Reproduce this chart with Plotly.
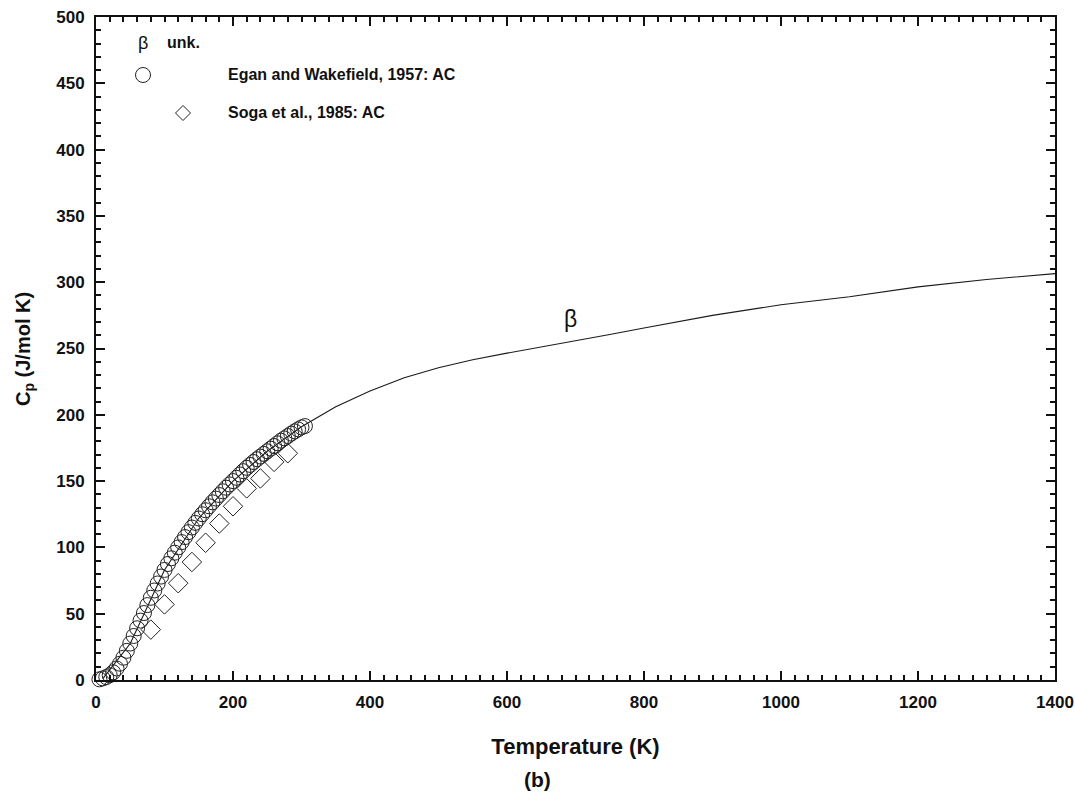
import plotly.graph_objects as go

# ---------------- data ----------------
egan_T = [5, 10, 15, 20, 25, 30, 35, 40, 45, 50, 55, 60, 65, 70, 75, 80, 85, 90, 95, 100,
          105, 110, 115, 120, 125, 130, 135, 140, 145, 150, 155, 160, 165, 170, 175, 180,
          185, 190, 195, 200, 205, 210, 215, 220, 225, 230, 235, 240, 245, 250, 255, 260,
          265, 270, 275, 280, 285, 290, 295, 300, 305]
egan_Cp = [0.5, 1.2, 2.2, 3.6, 5.8, 8.7, 12.3, 16.8, 22.0, 27.5, 33.2, 39.0, 44.8, 50.5, 56.5,
           62.0, 67.5, 72.8, 78.0, 83.0, 87.5, 91.8, 96.0, 100.0, 104.0, 107.8, 111.5, 115.0,
           118.5, 121.8, 125.0, 128.0, 131.0, 134.0, 136.8, 139.5, 142.3, 145.0, 147.5, 150.0,
           152.5, 155.0, 157.5, 160.0, 162.2, 164.4, 166.5, 168.5, 170.5, 172.5, 174.5, 176.5,
           178.5, 180.5, 182.2, 184.0, 185.8, 187.5, 189.0, 190.5, 191.5]

soga_T = [80, 100, 120, 140, 160, 180, 200, 220, 240, 260, 280]
soga_Cp = [38, 57, 73, 89, 103.5, 118, 131, 144.5, 152, 164.5, 171]

beta_T = [10, 50, 100, 150, 200, 250, 300, 350, 400, 450, 500, 550, 600, 650, 700, 750,
          800, 900, 1000, 1100, 1200, 1300, 1400]
beta_Cp = [1, 27.5, 83, 122, 150, 172.5, 191, 206, 218, 228, 235.5, 241.5, 246.5, 251,
           256, 260.5, 265.5, 275, 283, 289, 296.5, 302, 306.5]

x_ticks = [0, 200, 400, 600, 800, 1000, 1200, 1400]
y_ticks = [0, 50, 100, 150, 200, 250, 300, 350, 400, 450, 500]

FONT = "Liberation Sans, Arial, Helvetica, sans-serif"
INK = "#111111"

fig = go.Figure()

fig.add_trace(go.Scatter(
    x=beta_T, y=beta_Cp, mode="lines",
    line=dict(color="#1a1a1a", width=1.1),
    showlegend=False, cliponaxis=False))

fig.add_trace(go.Scatter(
    x=egan_T, y=egan_Cp, mode="markers",
    marker=dict(symbol="circle-open", size=15, color="#222222", line=dict(width=1)),
    showlegend=False, cliponaxis=False))

fig.add_trace(go.Scatter(
    x=soga_T, y=soga_Cp, mode="markers",
    marker=dict(symbol="diamond-open", size=15, color="#222222", line=dict(width=1)),
    showlegend=False, cliponaxis=False))

# pixel helpers for legend decorations (plot area: x 96..1055, y 17..680)
L, R, T, B = 96, 1055, 17, 680
def px(x):
    return (x - L) / (R - L)
def py(y):
    return (B - y) / (B - T)

shapes = []
# legend circle
shapes.append(dict(type="circle", xref="paper", yref="paper",
                   x0=px(135.5), x1=px(150.5), y0=py(82.5), y1=py(67.5),
                   line=dict(color="#222222", width=1)))
# legend diamond
cx, cy, h = 183, 113, 7.5
path = "M {} {} L {} {} L {} {} L {} {} Z".format(
    px(cx), py(cy - h), px(cx + h), py(cy), px(cx), py(cy + h), px(cx - h), py(cy))
shapes.append(dict(type="path", xref="paper", yref="paper", path=path,
                   line=dict(color="#222222", width=1)))

ann_font = dict(family=FONT, size=16, color=INK, weight="bold")
annotations = [
    dict(text="β", x=px(143), y=py(43), xref="paper", yref="paper", showarrow=False,
         xanchor="center", yanchor="middle", font=dict(family=FONT, size=18, color=INK)),
    dict(text="unk.", x=px(165), y=py(43), xref="paper", yref="paper", showarrow=False,
         xanchor="left", yanchor="middle", font=ann_font),
    dict(text="Egan and Wakefield, 1957: AC", x=px(226), y=py(74), xref="paper", yref="paper",
         showarrow=False, xanchor="left", yanchor="middle", font=ann_font),
    dict(text="Soga et al., 1985: AC", x=px(226), y=py(112), xref="paper", yref="paper",
         showarrow=False, xanchor="left", yanchor="middle", font=ann_font),
    dict(text="β", x=693, y=272, xref="x", yref="y", showarrow=False,
         xanchor="center", yanchor="middle", font=dict(family=FONT, size=23, color=INK)),
    dict(text="C<sub>p</sub> (J/mol K)", x=px(24), y=py(349), xref="paper", yref="paper",
         showarrow=False, textangle=-90, xanchor="center", yanchor="middle",
         font=dict(family=FONT, size=20, color=INK, weight="bold")),
    dict(text="(b)", x=px(537), y=py(780), xref="paper", yref="paper", showarrow=False,
         xanchor="center", yanchor="middle",
         font=dict(family=FONT, size=21, color=INK, weight="bold")),
]

axis_common = dict(
    showline=True, linecolor="#111111", linewidth=2, mirror="ticks",
    ticks="inside", ticklen=9, tickwidth=2, tickcolor="#111111",
    showgrid=False, zeroline=False, automargin=False,
    tickfont=dict(family=FONT, size=17, color=INK, weight="bold"),
)

fig.update_layout(
    width=1075, height=802,
    margin=dict(l=96, r=20, t=17, b=122),
    paper_bgcolor="white", plot_bgcolor="white",
    shapes=shapes, annotations=annotations,
    xaxis=dict(range=[0, 1400], tickvals=x_ticks, ticktext=[str(v) for v in x_ticks],
               minor=dict(dtick=20, ticks="inside", ticklen=5, tickwidth=1.5, tickcolor="#111111"),
               title=dict(text="Temperature (K)", standoff=27,
                          font=dict(family=FONT, size=22, color=INK, weight="bold")),
               ticklabelstandoff=6,
               **axis_common),
    yaxis=dict(range=[0, 500], tickvals=y_ticks, ticktext=[str(v) for v in y_ticks],
               minor=dict(dtick=10, ticks="inside", ticklen=5, tickwidth=1.5, tickcolor="#111111"),
               ticklabelstandoff=6,
               **axis_common),
)

fig.write_html("out.html")
